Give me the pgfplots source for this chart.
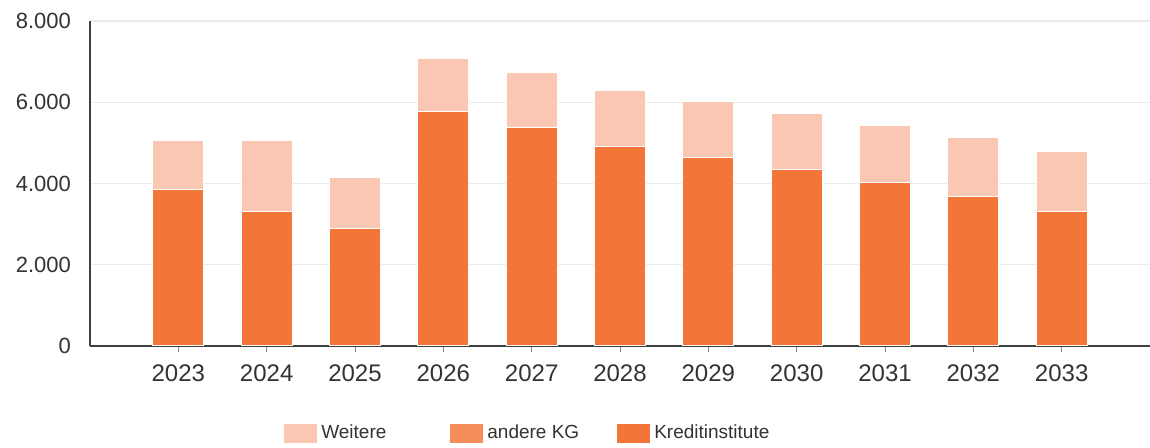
\documentclass[border=0pt]{standalone}
\usepackage{pgfplots}
\pgfplotsset{compat=1.18}
\usepackage{fontspec}
\setmainfont{Liberation Sans}

\definecolor{kredit}{HTML}{F37538}
\definecolor{andere}{HTML}{F68E5C}
\definecolor{weitere}{HTML}{FAC7B2}
\definecolor{gridgray}{HTML}{EBEBEB}
\definecolor{txt}{HTML}{333333}

% Jahr, Kreditinstitute, andere KG, Weitere
\pgfplotstableread{
x kredit andere weitere
0 3850 0 1210
1 3300 0 1750
2 2900 0 1250
3 5780 0 1300
4 5390 0 1340
5 4920 0 1380
6 4650 0 1370
7 4350 0 1370
8 4020 0 1410
9 3690 0 1430
10 3320 0 1470
}\datatable

\begin{document}
\begin{tikzpicture}
    \begin{axis}[
        scale only axis,
        width            = 530pt,
        height           = 162.5pt,
        ybar stacked,
        bar width        = 0.58,
        xmin             = -1,
        xmax             = 11,
        ymin             = 0,
        ymax             = 8000,
        xtick            = {0,...,10},
        xticklabels      = {2023,2024,2025,2026,2027,2028,2029,2030,2031,2032,2033},
        ytick            = {0,2000,4000,6000,8000},
        axis x line*     = bottom,
        axis y line*     = left,
        axis line style  = {draw=black!75, line width=0.7pt},
        ymajorgrids,
        grid style       = {gridgray, line width=0.6pt},
        tick align       = outside,
        major tick length = 3pt,
        xtick style      = {draw=black!50},
        ytick style      = {draw=none},
        xticklabel style = {font=\fontsize{12}{14}\selectfont, text=txt, yshift=-3pt},
        yticklabel style = {font=\fontsize{11}{13}\selectfont, text=txt, xshift=-3pt},
        /pgf/number format/.cd, 1000 sep={.}, assume math mode=true,
        /pgfplots/.cd,
        reverse legend,
        legend columns   = 3,
        legend style     = {at={(0.414,-0.268)}, anchor=center, draw=none, fill=none,
                            font=\fontsize{9.5}{11}\selectfont, text=txt,
                            /tikz/column 2/.style={column sep=30pt},
                            /tikz/column 4/.style={column sep=17pt}},
        legend image code/.code={
            \fill[#1, draw=none] (0pt,-4.75pt) rectangle (16.5pt,4.75pt);
        },
    ]
        \addplot[fill=kredit, draw=white, line width=0.5pt] table[x=x, y=kredit] {\datatable};
        \addplot[fill=andere, draw=none] table[x=x, y=andere] {\datatable};
        \addplot[fill=weitere, draw=white, line width=0.5pt] table[x=x, y=weitere] {\datatable};
        \legend{Kreditinstitute, andere KG, Weitere}
    \end{axis}
    \pgfresetboundingbox
    \path ([xshift=-45pt,yshift=-51pt]current axis.south west) rectangle ([yshift=10.5pt]current axis.north east);
\end{tikzpicture}
\end{document}
